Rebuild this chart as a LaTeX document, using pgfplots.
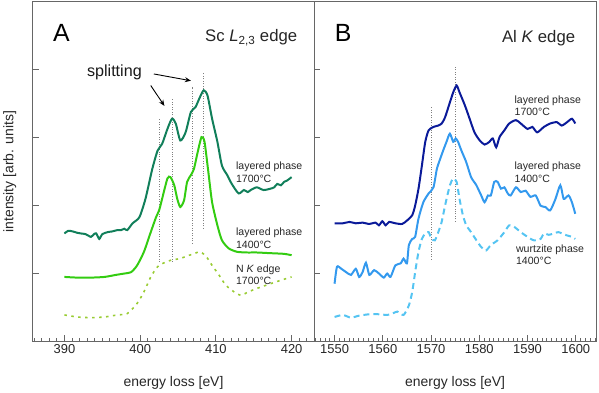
\documentclass[border=0pt]{standalone}
\usepackage{fontspec}
\setmainfont{Liberation Sans}
\usepackage{pgfplots}
\pgfplotsset{compat=1.18}
\usetikzlibrary{arrows.meta}

\definecolor{scdark}{HTML}{117F5A}
\definecolor{sclight}{HTML}{33CC11}
\definecolor{nedge}{HTML}{99CC33}
\definecolor{aldark}{HTML}{0A1A99}
\definecolor{almid}{HTML}{3399EE}
\definecolor{allight}{HTML}{55C4F2}
\definecolor{frame}{HTML}{666666}

\pgfplotsset{
  panel/.style={
    scale only axis,
    width=283pt, height=341pt,
    anchor=south west,
    ymin=0, ymax=5,
    ytick={1,2,3,4}, yticklabels={},
    ytick pos=left, xtick pos=bottom,
    tick align=inside,
    major tick length=6pt, minor tick length=3pt,
    axis line style={frame, line width=1pt},
    every tick/.style={frame, line width=0.8pt},
    tick label style={font=\fontsize{13}{15}\selectfont, text=black!85},
    /pgf/number format/assume math mode=true,
    /pgf/number format/1000 sep={},
    label style={font=\fontsize{14}{16}\selectfont, text=black!85},
    xlabel style={at={(axis description cs:0.5,-0.123)}, anchor=center},
  },
}
\tikzset{
  curve/.style={line width=2pt, smooth, tension=0.4},
  guide/.style={gray, line width=0.8pt, dash pattern=on 1pt off 1.5pt},
  note/.style={font=\fontsize{10.6}{12.5}\selectfont, align=left, anchor=west, text=black!85},
}

\begin{document}
\begin{tikzpicture}[x=1pt,y=1pt]
\path (0,0) rectangle (599,394);

% ---------- panel A: Sc L2,3 edge ----------
\begin{axis}[panel,
  at={(30pt,51pt)},
  xmin=385.8, xmax=423,
  xtick={390,400,410,420},
  minor xtick={386,387,...,423},
  xlabel={energy loss [eV]},
  ylabel={intensity [arb. units]},
  ylabel style={at={(axis description cs:-0.081,0.5)}, anchor=center},
]
\addplot[guide] coordinates {(402.5,1.17) (402.5,3.28)};
\addplot[guide] coordinates {(404.25,1.17) (404.25,3.57)};
\addplot[guide] coordinates {(406.9,1.44) (406.9,3.75)};
\addplot[guide] coordinates {(408.3,1.66) (408.3,3.96)};

% layered phase 1700C
\addplot[curve, scdark] coordinates {
(390,1.59) (390.5,1.63) (391.1,1.62) (391.7,1.60) (392.2,1.59) (392.8,1.58)
(393.5,1.54) (393.9,1.58) (394.2,1.59) (394.6,1.51) (395.0,1.58) (395.7,1.61)
(396.3,1.62) (397.0,1.64) (397.5,1.64) (397.9,1.66) (398.3,1.64) (399.0,1.74)
(399.9,1.83) (400.7,2.10) (401.6,2.54) (402.3,2.81) (402.9,2.91) (403.6,3.13)
(404.2,3.28) (404.7,3.21) (405.3,2.96) (406.0,3.08) (406.7,3.38) (407.3,3.45)
(407.9,3.60) (408.4,3.70) (408.9,3.62) (409.5,3.28) (410.2,2.94) (410.8,2.59)
(411.5,2.45) (412.1,2.32) (413.0,2.18) (413.7,2.23) (414.2,2.20) (414.6,2.23)
(415.4,2.27) (416.3,2.23) (417.2,2.25) (417.7,2.27) (418.1,2.32) (418.6,2.30)
(419.0,2.35) (419.4,2.37) (420.0,2.42)
};

% layered phase 1400C
\addplot[curve, sclight] coordinates {
(390,0.95) (391.7,0.94) (393.5,0.94) (395.3,0.95) (396.8,0.98) (397.9,1.00)
(398.8,1.02) (399.6,1.12) (400.5,1.32) (401.4,1.61) (402.1,1.83) (402.5,1.93)
(402.9,2.10) (403.6,2.40) (404.0,2.42) (404.5,2.30) (404.9,2.10) (405.3,1.98)
(405.8,2.08) (406.2,2.35) (406.7,2.45) (407.1,2.54) (407.6,2.79) (408.1,3.01)
(408.5,2.94) (409.0,2.50) (409.5,2.05) (410.2,1.71) (410.8,1.49) (411.7,1.37)
(412.8,1.32) (414.1,1.31) (415.4,1.31) (417.2,1.30) (419.0,1.29) (420,1.27)
};

% N K edge 1700C
\addplot[curve, nedge, line width=1.6pt, dash pattern=on 2.5pt off 4.5pt] coordinates {
(390,0.39) (391.7,0.36) (393.5,0.35) (395.3,0.36) (397.0,0.39) (398.3,0.41)
(399.6,0.56) (400.5,0.73) (401.4,0.95) (402.3,1.10) (403.2,1.16) (404.2,1.20)
(405.3,1.22) (406.2,1.26) (407.1,1.29) (407.8,1.32) (408.6,1.27) (409.5,1.12)
(410.4,0.98) (411.3,0.83) (412.4,0.73) (413.3,0.68) (414.3,0.73) (415.4,0.78)
(416.7,0.83) (418.0,0.88) (419.4,0.93) (420,0.95)
};

\draw[-{Stealth[length=6pt,width=5pt]}, line width=0.9pt] (axis cs:401.4,3.77) -- (axis cs:403.2,3.47);
\draw[-{Stealth[length=6pt,width=5pt]}, line width=0.9pt] (axis cs:401.8,3.94) -- (axis cs:406.7,3.84);
\node[font=\fontsize{16.2}{19}\selectfont, text=black!90] at (axis cs:396.6,3.97) {splitting};

\node[font=\fontsize{25}{30}\selectfont] at (axis cs:389.6,4.54) {A};
\node[font=\fontsize{16.8}{20}\selectfont, anchor=east, text=black!85] at (axis cs:421.2,4.47) {Sc \textit{L}\textsubscript{2,3} edge};

\node[note] at (axis cs:412.2,2.49) {layered phase\\1700°C};
\node[note] at (axis cs:412.2,1.52) {layered phase\\1400°C};
\node[note] at (axis cs:412.2,0.98) {N \textit{K} edge\\1700°C};
\end{axis}

% ---------- panel B: Al K edge ----------
\begin{axis}[panel,
  at={(313pt,51pt)},
  xmin=1545.8, xmax=1604.2,
  xtick={1550,1560,...,1600},
  minor xtick={1546,1547,...,1604},
  xlabel={energy loss [eV]},
]
\addplot[guide] coordinates {(1570.0,1.20) (1570.0,3.45)};
\addplot[guide] coordinates {(1575.1,1.76) (1575.1,4.04)};

% layered phase 1700C
\addplot[curve, aldark] coordinates {
(1550,1.74) (1551.7,1.74) (1553.1,1.76) (1554.4,1.74) (1555.8,1.75) (1557.2,1.73)
(1558.5,1.75) (1559.2,1.71) (1559.9,1.77) (1560.6,1.71) (1561.3,1.76) (1562.6,1.74)
(1564.0,1.73) (1565.0,1.78) (1566.1,1.86) (1566.7,2.00) (1567.4,2.25) (1568.1,2.59)
(1568.8,2.94) (1569.5,3.11) (1570.5,3.16) (1571.5,3.18) (1572.2,3.21) (1572.9,3.30)
(1573.9,3.52) (1574.6,3.67) (1575.3,3.77) (1575.9,3.67) (1577.0,3.48) (1578.0,3.28)
(1579.0,3.08) (1580.1,2.96) (1581.1,2.90) (1582.1,2.94) (1582.8,2.99) (1583.5,2.86)
(1584.2,3.01) (1585.2,3.11) (1586.2,3.21) (1587.6,3.26) (1588.6,3.21) (1590.0,3.13)
(1591.0,3.16) (1592.0,3.08) (1593.4,3.16) (1594.7,3.21) (1596.1,3.23) (1597.1,3.18)
(1598.2,3.23) (1599.2,3.28) (1599.9,3.21)
};

% layered phase 1400C
\addplot[curve, almid] coordinates {
(1550,0.85) (1550.5,1.10) (1551.4,1.07) (1552.4,1.02) (1553.4,0.98) (1554.4,1.07)
(1555.1,0.95) (1555.8,1.02) (1556.5,1.16) (1557.2,0.98) (1558.2,1.05) (1559.2,1.00)
(1560.2,0.94) (1560.9,1.00) (1561.6,0.95) (1562.6,1.12) (1563.7,1.15) (1564.3,1.22)
(1565.0,1.15) (1565.4,1.42) (1566.1,1.51) (1566.7,1.54) (1567.4,1.81) (1568.4,2.05)
(1569.5,2.18) (1570.5,2.27) (1571.2,2.54) (1571.9,2.69) (1572.5,2.81) (1573.2,2.94)
(1573.9,3.06) (1574.6,2.94) (1575.1,2.99) (1575.6,2.94) (1576.3,2.81) (1577.3,2.64)
(1578.3,2.42) (1579.4,2.30) (1580.4,2.15) (1581.1,2.05) (1581.8,2.15) (1582.4,2.15)
(1583.1,2.35) (1583.8,2.35) (1584.5,2.25) (1585.2,2.27) (1585.9,2.18) (1586.5,2.15)
(1587.6,2.27) (1588.6,2.20) (1589.6,2.22) (1590.6,2.13) (1591.7,2.15) (1592.7,2.00)
(1593.7,1.98) (1594.7,1.93) (1595.8,2.10) (1596.8,2.30) (1597.5,2.10) (1598.5,2.15)
(1599.2,2.05) (1599.9,1.88)
};

% wurtzite phase 1400C
\addplot[curve, allight, dash pattern=on 6pt off 4pt] coordinates {
(1550,0.36) (1551.7,0.39) (1553.4,0.35) (1555.1,0.38) (1557.2,0.40) (1559.2,0.40)
(1560.9,0.39) (1562.0,0.41) (1563.0,0.44) (1564.3,0.39) (1565.4,0.53) (1566.1,0.73)
(1566.7,1.02) (1567.4,1.32) (1568.1,1.51) (1568.8,1.59) (1569.5,1.61) (1570.1,1.51)
(1570.8,1.49) (1571.5,1.61) (1572.2,1.76) (1572.9,2.00) (1573.9,2.30) (1574.6,2.40)
(1575.3,2.35) (1575.9,2.10) (1576.6,1.86) (1577.3,1.71) (1578.3,1.61) (1579.4,1.49)
(1580.4,1.39) (1581.4,1.34) (1582.4,1.42) (1583.8,1.49) (1585.2,1.61) (1586.2,1.71)
(1587.2,1.69) (1588.6,1.61) (1590.0,1.54) (1591.3,1.49) (1592.7,1.51) (1593.4,1.59)
(1594.4,1.57) (1595.4,1.59) (1596.4,1.61) (1597.8,1.57) (1599.2,1.54) (1599.9,1.51)
};

\node[font=\fontsize{25}{30}\selectfont] at (axis cs:1551.8,4.54) {B};
\node[font=\fontsize{16.8}{20}\selectfont, anchor=east, text=black!85] at (axis cs:1600.6,4.47) {Al \textit{K} edge};

\node[note] at (axis cs:1586.6,3.47) {layered phase\\1700°C};
\node[note] at (axis cs:1586.6,2.49) {layered phase\\1400°C};
\node[note] at (axis cs:1586.9,1.28) {wurtzite phase\\1400°C};
\end{axis}
\end{tikzpicture}
\end{document}
